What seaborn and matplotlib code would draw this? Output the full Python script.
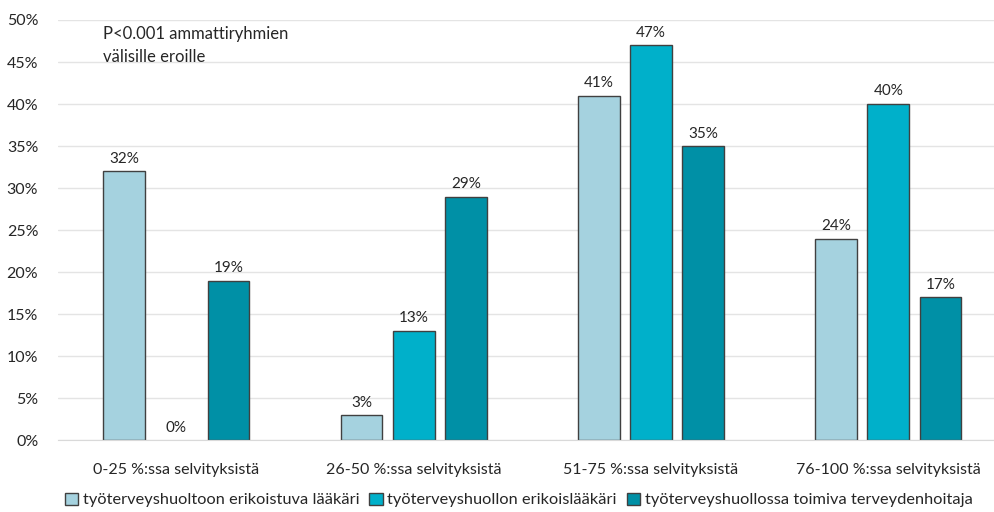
import numpy as np
import pandas as pd
import matplotlib
matplotlib.use("Agg")
import matplotlib.pyplot as plt
import seaborn as sns

# Data
categories = ["0-25 %:ssa selvityksistä", "26-50 %:ssa selvityksistä",
              "51-75 %:ssa selvityksistä", "76-100 %:ssa selvityksistä"]
groups = ["työterveyshuoltoon erikoistuva lääkäri",
          "työterveyshuollon erikoislääkäri",
          "työterveyshuollossa toimiva terveydenhoitaja"]
erikoistuva = [32, 3, 41, 24]
erikoislaakari = [0, 13, 47, 40]
terveydenhoitaja = [19, 29, 35, 17]
yticks = [0, 5, 10, 15, 20, 25, 30, 35, 40, 45, 50]

colors = ["#A5D2DF", "#00B0CA", "#0090A6"]

df = pd.DataFrame({
    "Luokka": categories * 3,
    "Ryhmä": [groups[0]] * 4 + [groups[1]] * 4 + [groups[2]] * 4,
    "Osuus": erikoistuva + erikoislaakari + terveydenhoitaja,
})

sns.set_style("white")
plt.rcParams["font.family"] = ["Lato", "DejaVu Sans"]

fig = plt.figure(figsize=(9.95, 5.12), dpi=100)
ax = fig.add_axes([0.058, 0.14, 0.942, 0.821])

sns.barplot(data=df, x="Luokka", y="Osuus", hue="Ryhmä", palette=colors,
            saturation=1, width=0.66, gap=0.2, edgecolor="#404040",
            linewidth=1, errorbar=None, ax=ax)

# value labels, and no outline on empty bars
for cont in ax.containers:
    ax.bar_label(cont, labels=[f"{v:.0f}%" for v in cont.datavalues],
                 padding=4, fontsize=11, color="#262626")
    for patch in cont.patches:
        if patch.get_height() == 0:
            patch.set_linewidth(0)

ax.set_ylim(0, 50)
ax.set_xlim(-0.5, 3.45)
ax.set_yticks(yticks)
ax.set_yticklabels([f"{t}%" for t in yticks], fontsize=11.5, color="#262626")
ax.tick_params(axis="x", labelsize=11.5, colors="#262626", length=0, pad=16)
ax.tick_params(axis="y", length=0, pad=14)
ax.yaxis.grid(True, color="#E4E4E4", linewidth=1)
ax.set_axisbelow(True)
ax.set_xlabel("")
ax.set_ylabel("")
for s in ["top", "right", "left"]:
    ax.spines[s].set_visible(False)
ax.spines["bottom"].set_color("#D9D9D9")

ax.text(0.048, 0.985, "P<0.001 ammattiryhmien\nvälisille eroille",
        transform=ax.transAxes, ha="left", va="top", fontsize=12,
        color="#262626", linespacing=1.5)

handles, labels = ax.get_legend_handles_labels()
ax.legend(handles, labels, loc="center", bbox_to_anchor=(0.492, -0.142),
          ncol=3, frameon=False, fontsize=11.8, handlelength=0.8,
          handleheight=0.8, handletextpad=0.3, columnspacing=0.6,
          labelcolor="#262626")

fig.savefig("out.png", dpi=100)
